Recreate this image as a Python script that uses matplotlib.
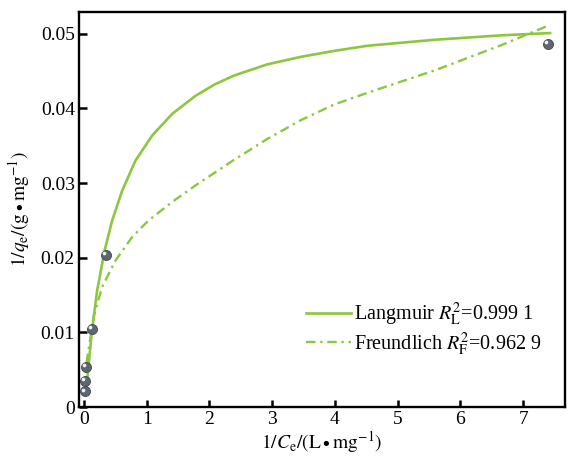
import matplotlib
matplotlib.use('Agg')
import matplotlib.pyplot as plt
from matplotlib.ticker import FuncFormatter
from matplotlib.transforms import offset_copy

plt.rcParams['font.family'] = ['Liberation Serif', 'DejaVu Serif']
plt.rcParams['mathtext.fontset'] = 'stix'

# measured points, 1/Ce vs 1/qe
x_pts = [0.02, 0.02, 0.03, 0.13, 0.35, 7.40]
y_pts = [0.0021, 0.0035, 0.0054, 0.0105, 0.0204, 0.0487]

# fitted curves
lang_x = [0.04, 0.09, 0.128, 0.21, 0.33, 0.45, 0.61, 0.82, 1.09, 1.41, 1.78, 2.08, 2.39, 2.92,
          3.45, 3.98, 4.52, 5.59, 6.66, 7.43]
lang_y = [0.0027, 0.0070, 0.0103, 0.0156, 0.0210, 0.0250, 0.0290, 0.0330, 0.0364, 0.0393,
          0.0417, 0.0432, 0.0444, 0.0459, 0.0469, 0.0477, 0.0484, 0.0492, 0.0498, 0.0501]

freu_x = [0.04, 0.155, 0.29, 0.50, 0.77, 1.03, 1.41, 1.78, 2.39, 2.92, 3.45, 3.98, 4.52,
          5.59, 6.66, 7.43]
freu_y = [0.0059, 0.0121, 0.0161, 0.0196, 0.0228, 0.0250, 0.0275, 0.0297, 0.0331, 0.0359,
          0.0384, 0.0405, 0.0421, 0.0451, 0.0485, 0.0512]

green = '#8dc63f'

fig = plt.figure(figsize=(5.68, 4.57), dpi=100)
ax = fig.add_axes([0.139, 0.1094, 0.856, 0.864])

ax.plot(lang_x, lang_y, color=green, lw=1.9, solid_joinstyle='round',
        label=r'Langmuir $R^2_\mathrm{L}$=0.999 1')
ax.plot(freu_x, freu_y, color=green, lw=1.7, dashes=(4, 2, 1, 2),
        label=r'Freundlich $R^2_\mathrm{F}$=0.962 9')
ax.scatter(x_pts, y_pts, s=52, color='#5d6772', edgecolor='#3f4852', lw=0.6, zorder=3)
# small highlight to make the markers look like spheres
hl = offset_copy(ax.transData, fig=fig, x=-1.3, y=1.3, units='points')
ax.scatter(x_pts, y_pts, s=7, color='#eef1f4', lw=0, zorder=4, transform=hl)

ax.set_xlim(-0.08, 7.67)
ax.set_ylim(0, 0.0529)
ax.set_xticks(range(0, 8))
ax.set_yticks([0, 0.01, 0.02, 0.03, 0.04, 0.05])
ax.yaxis.set_major_formatter(FuncFormatter(lambda v, p: '0' if v == 0 else f'{v:.2f}'))

for s in ax.spines.values():
    s.set_linewidth(1.7)
ax.tick_params(direction='in', width=1.8, labelsize=14, pad=3)
ax.tick_params(axis='x', length=5)
ax.tick_params(axis='y', length=6)

ax.set_xlabel(r'$1/C_\mathrm{e}/(\mathrm{L\bullet mg^{-1}})$', fontsize=14, labelpad=1)
ax.set_ylabel(r'$1/q_\mathrm{e}/(\mathrm{g\bullet mg^{-1}})$', fontsize=14, labelpad=6)

ax.legend(loc='upper left', bbox_to_anchor=(0.468, 0.27), frameon=False, fontsize=14.5,
          borderpad=0, borderaxespad=0, handlelength=2.2, handletextpad=0.15,
          labelspacing=0.12)

fig.savefig('out.png', dpi=100)
